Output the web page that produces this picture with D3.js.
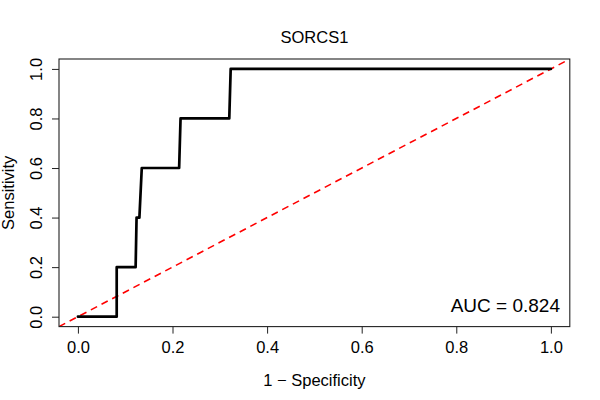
<!DOCTYPE html>
<html>
<head>
<meta charset="utf-8">
<script src="https://cdn.jsdelivr.net/npm/d3@7"></script>
<style>
  body { margin: 0; background: #fff; }
  text { font-family: "Liberation Sans", Arial, Helvetica, sans-serif; fill: #000; }
</style>
</head>
<body>
<svg id="main_svg" width="600" height="400"></svg>
<script>
// ROC curve points
const fpr = [0, 0.082, 0.082, 0.122, 0.124, 0.130, 0.135, 0.214, 0.217, 0.320, 0.323, 1]
const tpr = [0, 0, 0.2, 0.2, 0.4, 0.4, 0.6, 0.6, 0.8, 0.8, 1, 1]
const tick_values = [0, 0.2, 0.4, 0.6, 0.8, 1.0]
const chance_line = [-0.04, 1.04]
const title = "SORCS1"
const auc_label = "AUC = 0.824"

const svg = d3.select("#main_svg")
const plot_left = 59, plot_right = 569.8, plot_top = 59, plot_bottom = 326.6

const x = d3.scaleLinear().domain([-0.04, 1.04]).range([plot_left, plot_right])
const y = d3.scaleLinear().domain([-0.04, 1.04]).range([plot_bottom, plot_top])

// clip for the diagonal
svg.append("clipPath").attr("id", "plot_clip")
    .append("rect")
    .attr("x", plot_left).attr("y", plot_top)
    .attr("width", plot_right - plot_left).attr("height", plot_bottom - plot_top)

// chance diagonal
svg.append("line")
    .attr("clip-path", "url(#plot_clip)")
    .attr("x1", x(chance_line[0])).attr("y1", y(chance_line[0]))
    .attr("x2", x(chance_line[1])).attr("y2", y(chance_line[1]))
    .attr("stroke", "#ff0000")
    .attr("stroke-width", 1.6)
    .attr("stroke-dasharray", "7,5")

// roc curve
const roc = fpr.map((f, i) => [f, tpr[i]])
svg.append("path")
    .datum(roc)
    .attr("d", d3.line().x(d => x(d[0])).y(d => y(d[1])))
    .attr("fill", "none")
    .attr("stroke", "#000")
    .attr("stroke-width", 2.7)
    .attr("stroke-linejoin", "round")
    .attr("stroke-linecap", "round")

// box
svg.append("rect")
    .attr("x", plot_left).attr("y", plot_top)
    .attr("width", plot_right - plot_left).attr("height", plot_bottom - plot_top)
    .attr("fill", "none")
    .attr("stroke", "#222")
    .attr("stroke-width", 1.1)

// x axis
const x_axis = svg.append("g")
    .attr("transform", `translate(0,${plot_bottom})`)
    .call(d3.axisBottom(x).tickValues(tick_values).tickFormat(d3.format(".1f")).tickSize(7).tickPadding(7.4))
x_axis.select(".domain").remove()
x_axis.selectAll("line").attr("stroke", "#222")
x_axis.selectAll("text")
    .attr("font-size", 16.5)
    .style("font-family", "'Liberation Sans', Arial, sans-serif")

// y axis, labels parallel to the axis
const y_axis = svg.append("g")
    .attr("transform", `translate(${plot_left},0)`)
    .call(d3.axisLeft(y).tickValues(tick_values).tickFormat(d3.format(".1f")).tickSize(7))
y_axis.select(".domain").remove()
y_axis.selectAll("line").attr("stroke", "#222")
y_axis.selectAll("text")
    .attr("x", null).attr("dy", null)
    .attr("text-anchor", "middle")
    .attr("transform", `translate(${41.5 - plot_left},0) rotate(-90)`)
    .attr("font-size", 16.5)
    .style("font-family", "'Liberation Sans', Arial, sans-serif")

// title
svg.append("text")
    .attr("x", (plot_left + plot_right) / 2)
    .attr("y", 42.7)
    .attr("text-anchor", "middle")
    .attr("font-size", 16.5)
    .text(title)

// axis titles
svg.append("text")
    .attr("x", (plot_left + plot_right) / 2)
    .attr("y", 386)
    .attr("text-anchor", "middle")
    .attr("font-size", 16.5)
    .text("1 \u2212 Specificity")

svg.append("text")
    .attr("transform", `translate(13.5,${(plot_top + plot_bottom) / 2}) rotate(-90)`)
    .attr("text-anchor", "middle")
    .attr("font-size", 16.5)
    .text("Sensitivity")

// auc
svg.append("text")
    .attr("x", 560)
    .attr("y", 311.7)
    .attr("text-anchor", "end")
    .attr("font-size", 19)
    .text(auc_label)
</script>
</body>
</html>
